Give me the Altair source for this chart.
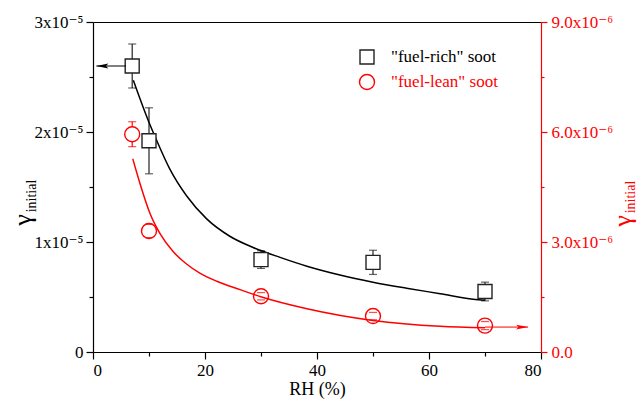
import altair as alt
import pandas as pd

# ---------------- data ----------------
rh = [7, 10, 30, 50, 70]
rich = [2.60e-5, 1.92e-5, 0.84e-5, 0.815e-5, 0.55e-5]
rich_err = [0.20e-5, 0.30e-5, 0.08e-5, 0.11e-5, 0.085e-5]
lean = [5.94e-6, 3.30e-6, 1.52e-6, 0.98e-6, 0.72e-6]
lean_err = [0.34e-6, 0.18e-6, 0.10e-6, 0.10e-6, 0.11e-6]

rich_fit_rh = [7.2, 9.9, 11.4, 13.75, 16.7, 20.3, 24.5, 28.6, 33.4, 38.2, 44.1, 50, 56, 62, 67.9, 70]
rich_fit = [2.47e-5, 2.10e-5, 1.92e-5, 1.66e-5, 1.42e-5, 1.21e-5, 1.05e-5, 0.95e-5, 0.86e-5,
            0.78e-5, 0.70e-5, 0.635e-5, 0.58e-5, 0.53e-5, 0.48e-5, 0.47e-5]
lean_fit_rh = [7.1, 8.4, 10.2, 12, 14.3, 16.7, 19, 22.1, 26.25, 30.1, 38.2, 50, 62, 70]
lean_fit = [5.27e-6, 4.59e-6, 3.77e-6, 3.22e-6, 2.74e-6, 2.40e-6, 2.16e-6, 1.93e-6, 1.70e-6, 1.50e-6,
            1.18e-6, 0.86e-6, 0.70e-6, 0.66e-6]

rich_arrow_rh = [5.9, 0.6]
rich_arrow_val = [2.60e-5, 2.60e-5]
lean_arrow_rh = [70, 77.7]
lean_arrow_val = [0.68e-6, 0.68e-6]

legend_labels = ['"fuel-rich" soot', '"fuel-lean" soot']
x_major = [0, 20, 40, 60, 80]
x_minor = [10, 30, 50, 70]
yl_major = [0, 1e-5, 2e-5, 3e-5]
yl_minor = [0.5e-5, 1.5e-5, 2.5e-5]
yr_major = [0, 3e-6, 6e-6, 9e-6]
yr_minor = [1.5e-6, 4.5e-6, 7.5e-6]

FONT = "'Liberation Serif', 'Times New Roman', 'DejaVu Serif', serif"
RED = "#ff0000"
DARK = "#222222"

rich_df = pd.DataFrame({"rh": rh, "v": rich,
                        "lo": [a - b for a, b in zip(rich, rich_err)],
                        "hi": [a + b for a, b in zip(rich, rich_err)]})
lean_df = pd.DataFrame({"rh": rh, "v": lean,
                        "lo": [a - b for a, b in zip(lean, lean_err)],
                        "hi": [a + b for a, b in zip(lean, lean_err)]})
rich_fit_df = pd.DataFrame({"rh": rich_fit_rh, "v": rich_fit})
lean_fit_df = pd.DataFrame({"rh": lean_fit_rh, "v": lean_fit})
rich_arrow_df = pd.DataFrame({"rh": rich_arrow_rh, "v": rich_arrow_val})
lean_arrow_df = pd.DataFrame({"rh": lean_arrow_rh, "v": lean_arrow_val})

xs = alt.Scale(domain=[0, 80], nice=False)
ysL = alt.Scale(domain=[0, 3e-5], nice=False)
ysR = alt.Scale(domain=[0, 9e-6], nice=False)

X0 = alt.X("rh:Q", scale=xs, axis=None)

ARROW_R = "M0,0 L-2,-0.4 L-1.6,0 L-2,0.4 Z"
ARROW_L = "M0,0 L2,-0.4 L1.6,0 L2,0.4 Z"

layers = []

# ---------------- axes (drawn by invisible point layers) ----------------
x_axis_major = alt.Axis(values=x_major, orient="bottom", title="RH (%)", tickSize=7,
                        labelPadding=3, titlePadding=2, format="d")
yl_axis = alt.Axis(values=yl_major, orient="left", title=None, tickSize=7, labelPadding=3,
                   labelExpr="datum.value == 0 ? '0' : format(round(datum.value/1e-5), 'd') + 'x10⁻⁵'")
yr_axis = alt.Axis(values=yr_major, orient="right", title=None, tickSize=6, labelPadding=4,
                   domainColor=RED, tickColor=RED, labelColor=RED,
                   labelExpr="datum.value == 0 ? '0.0' : format(datum.value/1e-6, '.1f') + 'x10⁻⁶'")

layers.append(alt.Chart(rich_df).mark_point(opacity=0).encode(
    x=alt.X("rh:Q", scale=xs, axis=x_axis_major),
    y=alt.Y("v:Q", scale=ysL, axis=yl_axis)))
layers.append(alt.Chart(lean_df).mark_point(opacity=0).encode(
    x=alt.X("rh:Q", scale=xs, axis=alt.Axis(orient="top", ticks=False, labels=False,
                                             domain=True, title=None)),
    y=alt.Y("v:Q", scale=ysR, axis=yr_axis)))
layers.append(alt.Chart(rich_df).mark_point(opacity=0).encode(
    x=alt.X("rh:Q", scale=xs, axis=alt.Axis(values=x_minor, orient="bottom", tickSize=4,
                                             labels=False, domain=False, title=None)),
    y=alt.Y("v:Q", scale=ysL, axis=alt.Axis(values=yl_minor, orient="left", tickSize=4,
                                            labels=False, domain=False, title=None))))
layers.append(alt.Chart(lean_df).mark_point(opacity=0).encode(
    x=X0,
    y=alt.Y("v:Q", scale=ysR, axis=alt.Axis(values=yr_minor, orient="right", tickSize=3,
                                            labels=False, domain=False, title=None, tickColor=RED))))

# ---------------- black (fuel-rich) ----------------
def yl(f):
    return alt.Y(f, scale=ysL, axis=None)

def yr(f):
    return alt.Y(f, scale=ysR, axis=None)

layers += [
    alt.Chart(rich_df).mark_rule(color=DARK, strokeWidth=1.2).encode(x=X0, y=yl("lo:Q"), y2="hi:Q"),
    alt.Chart(rich_df).mark_tick(orient="horizontal", size=8, thickness=1.2, color=DARK).encode(x=X0, y=yl("lo:Q")),
    alt.Chart(rich_df).mark_tick(orient="horizontal", size=8, thickness=1.2, color=DARK).encode(x=X0, y=yl("hi:Q")),
    alt.Chart(rich_fit_df).mark_line(color="black", strokeWidth=1.5, interpolate="monotone").encode(x=X0, y=yl("v:Q")),
    alt.Chart(rich_df).mark_point(shape="square", size=196, filled=False, fill="white", fillOpacity=1,
                                  stroke=DARK, strokeWidth=1.4, opacity=1).encode(x=X0, y=yl("v:Q")),
    alt.Chart(rich_arrow_df).mark_line(color="black", strokeWidth=1).encode(x=X0, y=yl("v:Q")),
    alt.Chart(rich_arrow_df.iloc[[1]]).mark_point(shape=ARROW_L, size=144, filled=True, color="black",
                                                 opacity=1).encode(x=X0, y=yl("v:Q")),
]

# ---------------- red (fuel-lean) ----------------
layers += [
    alt.Chart(lean_df).mark_rule(color=RED, strokeWidth=1.2).encode(x=X0, y=yr("lo:Q"), y2="hi:Q"),
    alt.Chart(lean_df).mark_point(shape="circle", size=225, filled=False, fill="white", fillOpacity=1,
                                  stroke=RED, strokeWidth=1.4, opacity=1).encode(x=X0, y=yr("v:Q")),
    alt.Chart(lean_df).mark_tick(orient="horizontal", size=8, thickness=1.2, color=RED).encode(x=X0, y=yr("lo:Q")),
    alt.Chart(lean_df).mark_tick(orient="horizontal", size=8, thickness=1.2, color=RED).encode(x=X0, y=yr("hi:Q")),
    alt.Chart(lean_fit_df).mark_line(color=RED, strokeWidth=1.5, interpolate="monotone").encode(x=X0, y=yr("v:Q")),
    alt.Chart(lean_arrow_df).mark_line(color=RED, strokeWidth=1).encode(x=X0, y=yr("v:Q")),
    alt.Chart(lean_arrow_df.iloc[[1]]).mark_point(shape=ARROW_R, size=144, filled=True, color=RED,
                                                 opacity=1).encode(x=X0, y=yr("v:Q")),
]

# ---------------- axis titles (gamma with subscript) ----------------
def txt(s, x, y, size, color, angle=270):
    return alt.Chart(pd.DataFrame({"t": [s]})).mark_text(
        font=FONT, fontSize=size, color=color, angle=angle, align="center", baseline="middle").encode(
        text="t:N", x=alt.value(x), y=alt.value(y))

layers += [
    txt("γ", -70, 198, 26, "black"),
    txt("initial", -61, 174, 14, "black"),
    txt("γ", 530, 199, 26, RED),
    txt("initial", 538, 175, 14, RED),
]

# ---------------- legend ----------------
layers += [
    alt.Chart(pd.DataFrame({"t": [legend_labels[0]]})).mark_point(
        shape="square", size=196, filled=False, stroke=DARK, strokeWidth=1.4, opacity=1).encode(
        x=alt.value(274), y=alt.value(35)),
    alt.Chart(pd.DataFrame({"t": [legend_labels[1]]})).mark_point(
        shape="circle", size=225, filled=False, stroke=RED, strokeWidth=1.4, opacity=1).encode(
        x=alt.value(274), y=alt.value(60)),
    alt.Chart(pd.DataFrame({"t": [legend_labels[0]]})).mark_text(
        font=FONT, fontSize=17, color="black", align="left", baseline="middle").encode(
        text="t:N", x=alt.value(298), y=alt.value(35)),
    alt.Chart(pd.DataFrame({"t": [legend_labels[1]]})).mark_text(
        font=FONT, fontSize=17, color=RED, align="left", baseline="middle").encode(
        text="t:N", x=alt.value(298), y=alt.value(60)),
]

chart = alt.layer(*layers).resolve_scale(y="independent").resolve_axis(
    x="independent", y="independent").properties(
    width=448, height=330,
    autosize=alt.AutoSizeParams(type="none"),
    padding={"left": 93, "top": 22, "right": 103, "bottom": 51},
).configure_view(stroke=None).configure_axis(
    grid=False, labelFont=FONT, titleFont=FONT, labelFontSize=17, titleFontSize=18,
    titleFontWeight="normal", labelColor="black", titleColor="black",
    domainColor="black", tickColor="black", domainWidth=1.2, tickWidth=1.2,
).configure_text(font=FONT)

chart.save("out.html", embed_options={"renderer": "svg", "actions": False})
